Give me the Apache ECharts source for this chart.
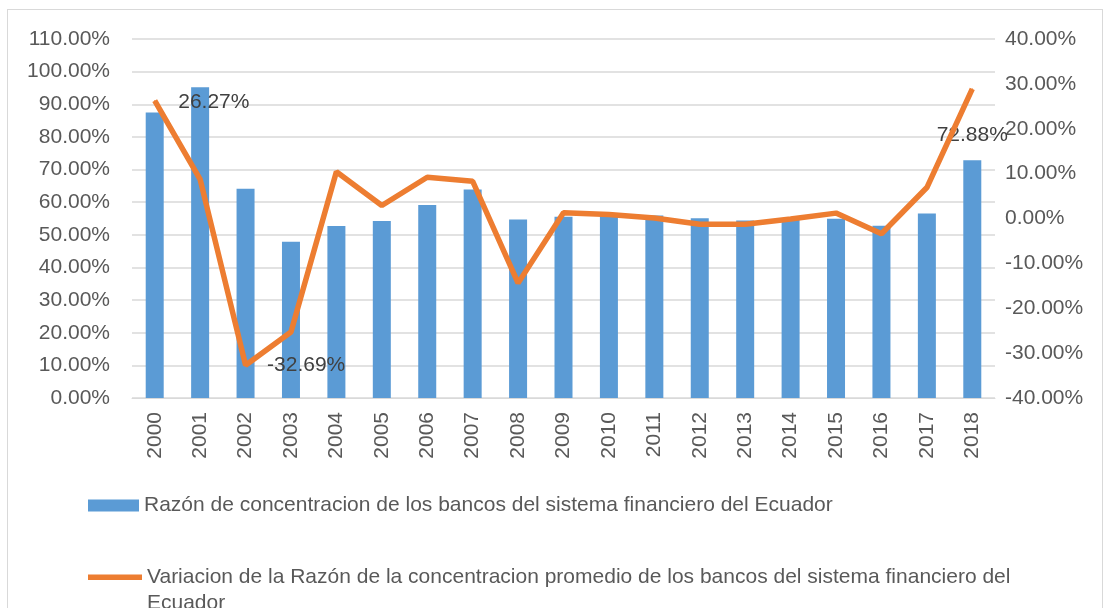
<!DOCTYPE html>
<html>
<head>
<meta charset="utf-8">
<script src="https://cdn.jsdelivr.net/npm/echarts@6/dist/echarts.min.js"></script>
<style>
  html, body { margin: 0; padding: 0; background: #fff; }
  #frame { position: absolute; left: 7px; top: 9px; width: 1094px; height: 620px; border: 1px solid #d9d9d9; }
  #chart { position: absolute; left: 0; top: 0; width: 1109px; height: 608px; }
</style>
</head>
<body>
<div id="frame"></div>
<div id="chart"></div>
<script>
// años
const years = ['2000', '2001', '2002', '2003', '2004', '2005', '2006', '2007', '2008', '2009',
  '2010', '2011', '2012', '2013', '2014', '2015', '2016', '2017', '2018']
// razón de concentración (%)
const concentracion = [87.5, 95.2, 64.1, 47.9, 52.7, 54.2, 59.1, 63.9, 54.7, 55.5,
  55.8, 55.9, 55.1, 54.4, 54.8, 54.9, 52.8, 56.5, 72.88]
// variación de la razón (%)
const variacion = [26.27, 8.7, -32.69, -25.3, 10.4, 2.9, 9.2, 8.3, -14.4, 1.3,
  0.9, 0.1, -1.3, -1.3, -0.1, 1.2, -3.4, 6.9, 28.9]

const barName = 'Razón de concentracion de los bancos del sistema financiero del Ecuador'
const lineName = 'Variacion de la Razón de la concentracion promedio de los bancos del sistema financiero del Ecuador'

const FONT = '"Liberation Sans", Arial, sans-serif'
const pct = (v) => v.toFixed(2) + '%'

const labelStyle = { show: true, fontFamily: FONT, fontSize: 21, color: '#404040', formatter: (p) => pct(p.value) }

const barData = concentracion.map((v, i) => i === 18
  ? { value: v, label: { ...labelStyle, position: 'top', distance: 14 } }
  : v)
const lineData = variacion.map((v, i) => (i === 0 || i === 2)
  ? { value: v, label: { ...labelStyle, position: 'right', distance: i === 0 ? 23 : 21, offset: [0, i === 0 ? 2 : 0] } }
  : v)

const chart = echarts.init(document.getElementById('chart'))

chart.setOption({
  animation: false,
  textStyle: { fontFamily: FONT },
  grid: { left: 132, right: 114, top: 39, bottom: 210 },
  legend: [
    {
      data: [{ name: barName, icon: 'rect' }],
      left: 83, top: 490,
      itemWidth: 51, itemHeight: 12,
      textStyle: { fontFamily: FONT, fontSize: 21, color: '#595959' }
    },
    {
      // icono alineado con la primera línea del texto
      data: [{
        name: lineName,
        icon: 'path://M0,0 L54,0 L54,5.5 L0,5.5 Z M0,31 L54,31',
        itemStyle: { color: '#ed7d31', borderWidth: 0 }
      }],
      left: 83, top: 559,
      itemWidth: 54, itemHeight: 31,
      textStyle: {
        fontFamily: FONT, fontSize: 21, color: '#595959',
        width: 900, overflow: 'break', lineHeight: 26
      }
    }
  ],
  xAxis: {
    type: 'category',
    data: years,
    axisLine: { lineStyle: { color: '#d9d9d9' } },
    axisTick: { show: false },
    axisLabel: { rotate: 90, margin: 14, fontSize: 21, color: '#595959', fontFamily: FONT }
  },
  yAxis: [
    {
      type: 'value', min: 0, max: 110, interval: 10,
      axisLabel: { formatter: (v) => pct(v), fontSize: 21, color: '#595959', margin: 22, fontFamily: FONT },
      splitLine: { lineStyle: { color: '#d9d9d9', width: 1.5 } }
    },
    {
      type: 'value', min: -40, max: 40, interval: 10,
      axisLabel: { formatter: (v) => pct(v), fontSize: 21, color: '#595959', margin: 10, fontFamily: FONT },
      splitLine: { show: false }
    }
  ],
  series: [
    {
      name: barName,
      type: 'bar',
      data: barData,
      barWidth: 18,
      itemStyle: { color: '#5b9bd5' }
    },
    {
      name: lineName,
      type: 'line',
      yAxisIndex: 1,
      data: lineData,
      symbol: 'circle',
      symbolSize: 1,
      showSymbol: true,
      lineStyle: { color: '#ed7d31', width: 5.5 },
      itemStyle: { color: '#ed7d31' }
    }
  ]
})
</script>
</body>
</html>
